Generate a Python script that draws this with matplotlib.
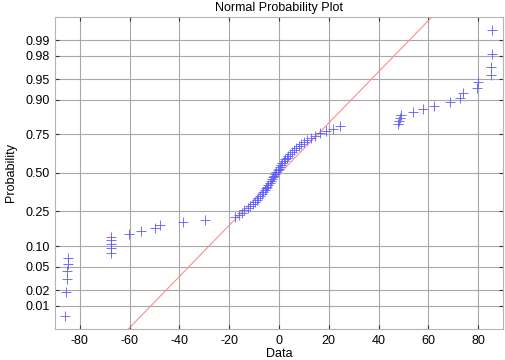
from statistics import NormalDist

import numpy as np
import matplotlib
matplotlib.use('Agg')
import matplotlib.pyplot as plt

# sample values (sorted), plotted against normal quantiles
data_low = [-85.5, -86.0, -85.2, -85.0, -84.8, -84.8,
            -67.5, -67.6, -67.4, -67.7, -67.5,
            -60.3, -55.5, -50.0, -47.8, -38.5, -29.6]
data_mid = [-17.5, -16.2, -15.0, -14.2, -12.5, -11.5, -10.6, -9.8, -9.0,
            -8.3, -7.6, -7.0, -6.4, -5.8, -5.3, -4.8, -4.3, -3.8, -3.3,
            -2.9, -2.4, -2.0, -1.5, -1.1, -0.6, -0.2, 0.3, 0.8, 1.3, 1.9,
            2.5, 3.2, 3.8, 4.5, 5.3, 6.0, 7.0, 8.0, 9.0, 10.2, 11.4, 12.8,
            14.5, 16.5, 19.0, 21.5, 24.5]
data_high = [48.0, 48.3, 48.6, 49.0, 53.7, 57.7, 62.1, 68.8, 72.7, 74.0,
             79.5, 79.8, 85.0, 85.2, 85.5, 85.7]

prob_ticks = [0.01, 0.02, 0.05, 0.10, 0.25, 0.50, 0.75, 0.90, 0.95, 0.98, 0.99]
prob_labels = ['0.01', '0.02', '0.05', '0.10', '0.25', '0.50',
               '0.75', '0.90', '0.95', '0.98', '0.99']
x_ticks = [-80, -60, -40, -20, 0, 20, 40, 60, 80]

plt.rcParams['font.family'] = ['Liberation Sans', 'DejaVu Sans']
plt.rcParams['font.size'] = 9

nd = NormalDist()
x = np.sort(np.array(data_low + data_mid + data_high))
n = len(x)
z = np.array([nd.inv_cdf((i + 0.5) / n) for i in range(n)])

# reference line through the quartiles, like normplot
q1, q3 = np.percentile(x, [25, 75], method='hazen')
z1, z3 = nd.inv_cdf(0.25), nd.inv_cdf(0.75)
slope = (z3 - z1) / (q3 - q1)
lx = np.array([x.min(), x.max()])
lz = z1 + slope * (lx - q1)

fig = plt.figure(figsize=(5.05, 3.6), dpi=100)
ax = fig.add_axes([0.109, 0.086, 0.887, 0.867])

ax.grid(True, color='#a8a8a8', linewidth=0.8)
ax.set_axisbelow(True)
ax.plot(lx, lz, color='#ff8c8c', linewidth=0.8, zorder=2)
ax.plot(x, z, linestyle='none', marker='+', markersize=7,
        markeredgewidth=0.6, color='#5a5aff', zorder=3)

ylim = nd.inv_cdf(0.25 / n)
ax.set_ylim(ylim, -ylim)
ax.set_xlim(-90, 90)
ax.set_xticks(x_ticks)
ax.set_xticklabels([str(t) for t in x_ticks])
ax.set_yticks([nd.inv_cdf(p) for p in prob_ticks])
ax.set_yticklabels(prob_labels)

ax.tick_params(direction='in', length=3, width=0.8, color='#333333',
               top=True, right=True, pad=4)
for s in ax.spines.values():
    s.set_color('#b4b4b4')
    s.set_linewidth(0.8)

ax.set_title('Normal Probability Plot', fontsize=9, pad=4)
ax.set_xlabel('Data', labelpad=1)
ax.set_ylabel('Probability', labelpad=6)

fig.savefig('out.png', dpi=100)
